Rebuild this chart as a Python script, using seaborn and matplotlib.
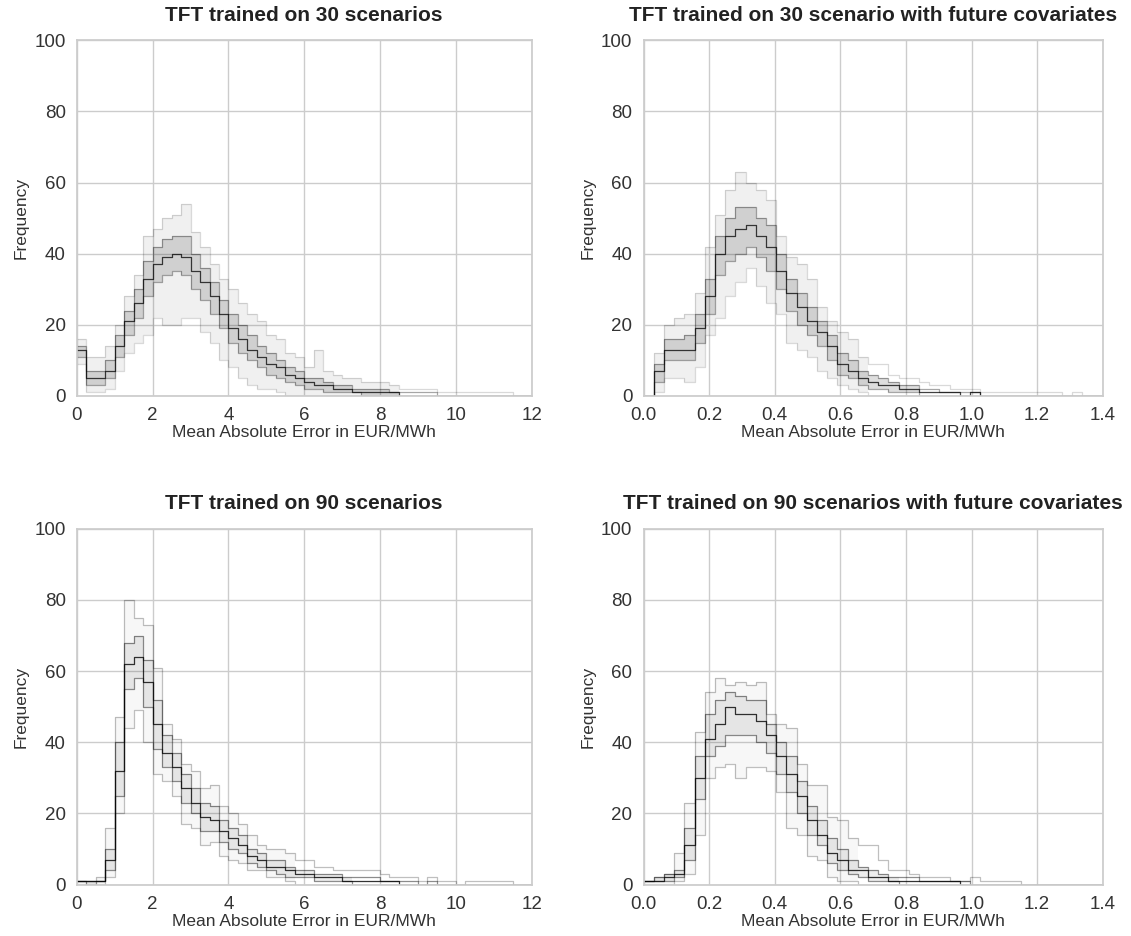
import numpy as np
import pandas as pd
import seaborn as sns
import matplotlib.pyplot as plt

# panel titles / labels
titles = ["TFT trained on 30 scenarios",
          "TFT trained on 30 scenario with future covariates",
          "TFT trained on 90 scenarios",
          "TFT trained on 90 scenarios with future covariates"]
xlabel = "Mean Absolute Error in EUR/MWh"
ylabel = "Frequency"

# histogram bin settings (range, number of bins)
eur_range, eur_bins = (0, 12), 48
cov_range, cov_bins = (0, 1.4), 45
eur_ticks = [0, 2, 4, 6, 8, 10, 12]
cov_ticks = [0.0, 0.2, 0.4, 0.6, 0.8, 1.0, 1.2, 1.4]

# bin counts: lowest run, lower core, typical, upper core, highest run
s30_lo = [9, 1, 1, 2, 7, 12, 15, 17, 22, 20, 20, 22, 22, 18, 15, 10, 8, 5, 3, 2, 2, 1, 0, 0, 0, 0, 0, 0, 0, 0, 0, 0, 0, 0]
s30_q1 = [11, 3, 3, 5, 11, 17, 22, 28, 32, 34, 35, 34, 30, 27, 23, 19, 15, 12, 10, 8, 6, 5, 4, 3, 2, 2, 1, 1, 1, 1, 0, 0, 0, 0]
s30_med = [13, 5, 5, 7, 14, 21, 26, 33, 37, 39, 40, 39, 35, 32, 28, 23, 19, 16, 13, 11, 9, 8, 6, 5, 4, 3, 3, 2, 2, 1, 1, 1, 1, 1]
s30_q3 = [14, 7, 7, 10, 17, 24, 30, 38, 42, 44, 45, 45, 40, 36, 32, 27, 23, 20, 17, 14, 12, 10, 8, 7, 5, 5, 4, 3, 3, 2, 2, 2, 2, 1, 1, 1, 1, 1]
s30_hi = [16, 11, 11, 14, 20, 28, 34, 45, 47, 50, 51, 54, 46, 42, 37, 33, 30, 26, 23, 21, 17, 16, 12, 11, 8, 13, 7, 6, 5, 5, 4, 4, 4, 3, 2, 2, 2, 2, 1, 1, 1, 1, 1, 1, 1, 1]

c30_lo = [0, 1, 5, 5, 4, 8, 17, 22, 28, 32, 36, 31, 26, 23, 15, 13, 11, 7, 5, 3, 2, 1]
c30_q1 = [0, 4, 10, 10, 10, 15, 23, 34, 38, 40, 42, 39, 35, 30, 24, 20, 17, 14, 10, 6, 5, 3, 2, 2, 1, 1, 1]
c30_med = [0, 7, 13, 13, 13, 19, 28, 40, 45, 47, 48, 45, 42, 35, 29, 25, 21, 18, 14, 9, 7, 5, 4, 3, 3, 2, 2, 1, 1, 1, 1, 0, 1]
c30_q3 = [0, 9, 16, 16, 17, 23, 33, 45, 50, 53, 53, 50, 48, 40, 33, 29, 25, 21, 17, 12, 10, 7, 6, 5, 4, 3, 3, 2, 2, 1, 1, 1, 1]
c30_hi = [0, 12, 20, 22, 23, 29, 42, 51, 58, 63, 60, 58, 55, 45, 39, 37, 33, 25, 21, 18, 16, 11, 9, 9, 6, 5, 5, 4, 3, 3, 2, 2, 2, 1, 1, 1, 1, 1, 1, 1, 1, 0, 1]

s90_lo = [0, 0, 0, 2, 20, 44, 49, 40, 31, 29, 25, 17, 16, 11, 12, 8, 7, 6, 4, 4, 2, 2, 1]
s90_q1 = [1, 0, 1, 4, 25, 55, 58, 50, 38, 33, 29, 23, 20, 15, 15, 12, 10, 9, 6, 5, 4, 3, 2, 2, 2, 1, 1, 1, 1]
s90_med = [1, 1, 1, 7, 32, 62, 64, 57, 45, 37, 33, 27, 23, 19, 18, 15, 13, 11, 8, 7, 5, 5, 4, 3, 3, 2, 2, 2, 1, 1, 1, 1, 1, 1]
s90_q3 = [1, 1, 1, 10, 40, 68, 70, 63, 52, 42, 37, 31, 27, 23, 22, 18, 16, 14, 10, 9, 7, 7, 5, 4, 4, 3, 3, 3, 2, 2, 2, 2, 1, 1, 1, 1, 0, 1]
s90_hi = [1, 1, 2, 16, 47, 80, 75, 73, 61, 45, 41, 34, 32, 27, 28, 22, 20, 17, 14, 11, 10, 10, 9, 7, 7, 5, 5, 4, 4, 4, 4, 4, 3, 2, 2, 2, 1, 2, 1, 1, 0, 1, 1, 1, 1, 1]

c90_lo = [0, 0, 0, 1, 3, 14, 30, 33, 34, 30, 33, 33, 32, 26, 16, 14, 8, 7, 2, 1, 1]
c90_q1 = [1, 1, 1, 2, 7, 24, 36, 39, 42, 42, 42, 40, 37, 31, 26, 20, 14, 11, 6, 4, 3, 2, 1, 1, 1]
c90_med = [1, 1, 2, 3, 11, 30, 41, 45, 50, 48, 48, 46, 42, 36, 31, 25, 18, 14, 9, 7, 4, 4, 2, 2, 1, 1, 1, 1, 1, 1, 1]
c90_q3 = [1, 2, 3, 4, 16, 36, 48, 52, 54, 53, 52, 52, 45, 40, 36, 29, 22, 18, 13, 10, 7, 5, 4, 3, 2, 2, 2, 1, 1, 1, 1, 1]
c90_hi = [1, 2, 3, 9, 23, 43, 54, 58, 56, 57, 56, 57, 48, 45, 44, 34, 28, 28, 19, 18, 13, 11, 11, 7, 4, 4, 3, 2, 2, 2, 1, 1, 2, 1, 1, 1, 1]

panels = [
    (titles[0], eur_range, eur_bins, eur_ticks, [s30_lo, s30_q1, s30_med, s30_q3, s30_hi]),
    (titles[1], cov_range, cov_bins, cov_ticks, [c30_lo, c30_q1, c30_med, c30_q3, c30_hi]),
    (titles[2], eur_range, eur_bins, eur_ticks, [s90_lo, s90_q1, s90_med, s90_q3, s90_hi]),
    (titles[3], cov_range, cov_bins, cov_ticks, [c90_lo, c90_q1, c90_med, c90_q3, c90_hi]),
]

sns.set_theme(style="whitegrid")
plt.rcParams['font.family'] = ['Liberation Sans', 'DejaVu Sans']

fig = plt.figure(figsize=(11.31, 9.36), dpi=100)
boxes = [[0.068, 0.577, 0.402, 0.380], [0.569, 0.577, 0.406, 0.380],
         [0.068, 0.055, 0.402, 0.380], [0.569, 0.055, 0.406, 0.380]]
# top row: many faint runs, bottom row: fewer, more distinct runs
band_alpha = [(0.06, 0.13), (0.06, 0.13), (0.03, 0.07), (0.03, 0.07)]
line_alpha = [[0.15, 0.35, 0.75, 0.35, 0.15], [0.15, 0.35, 0.75, 0.35, 0.15],
              [0.25, 0.45, 0.8, 0.45, 0.25], [0.25, 0.45, 0.8, 0.45, 0.25]]

for i, (title, rng, nb, ticks, runs) in enumerate(panels):
    ax = fig.add_axes(boxes[i])
    width = (rng[1] - rng[0]) / nb
    lo, q1, med, q3, hi = runs

    # grey bands between the extreme runs and the core runs
    for (a, b), al in zip([(lo, hi), (q1, q3)], band_alpha[i]):
        n = min(len(a), len(b))
        xs = rng[0] + width * np.arange(n + 1)
        ax.fill_between(xs, np.append(a[:n], a[n - 1]), np.append(b[:n], b[n - 1]),
                        step='post', color='black', alpha=al, linewidth=0)

    for run, al in zip(runs, line_alpha[i]):
        centers = rng[0] + width * (np.arange(len(run)) + 0.5)
        df = pd.DataFrame({'mae': centers, 'count': run})
        sns.histplot(data=df, x='mae', weights='count', binwidth=width, binrange=rng,
                     element='step', fill=False, color='black', alpha=al,
                     linewidth=0.9, ax=ax)

    ax.set_xlim(rng)
    ax.set_ylim(0, 100)
    ax.set_xticks(ticks)
    if rng[1] < 2:
        ax.set_xticklabels([f"{t:.1f}" for t in ticks])
    ax.set_yticks([0, 20, 40, 60, 80, 100])
    ax.tick_params(labelsize=13.5, pad=2, labelcolor='#333333')
    ax.set_title(title, fontsize=15, fontweight='bold', pad=14, color='#222222')
    ax.set_xlabel(xlabel, fontsize=12.5, labelpad=1, color='#333333')
    ax.set_ylabel(ylabel, fontsize=12.5, labelpad=4, color='#333333')

fig.savefig("out.png", dpi=100)
